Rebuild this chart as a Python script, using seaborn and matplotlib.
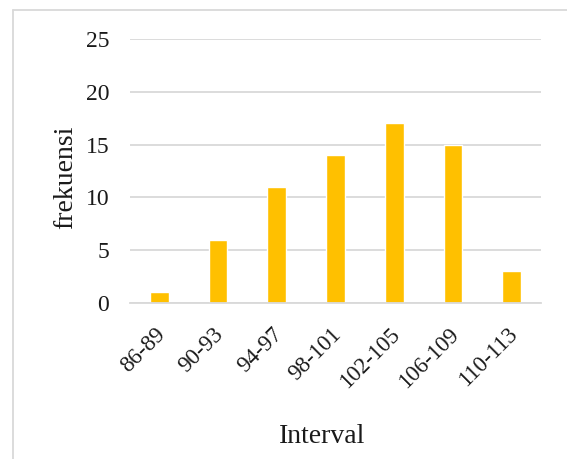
import matplotlib
matplotlib.use("Agg")
import matplotlib.pyplot as plt
import matplotlib.transforms as mtransforms
import seaborn as sns
import pandas as pd

intervals = ["86-89", "90-93", "94-97", "98-101", "102-105", "106-109", "110-113"]
frequencies = [1, 6, 11, 14, 17, 15, 3]
y_ticks = [0, 5, 10, 15, 20, 25]

df = pd.DataFrame({"Interval": intervals, "frekuensi": frequencies})

sns.set_theme(style="white")
plt.rcParams["font.family"] = ["Liberation Serif", "DejaVu Serif"]

fig = plt.figure(figsize=(5.67, 4.59), dpi=100)
ax = fig.add_axes([130 / 567, 1 - 303 / 459, 411 / 567, 264 / 459])

sns.barplot(data=df, x="Interval", y="frekuensi", color="#FFC000",
            saturation=1, width=0.32, ax=ax)

ax.set_ylim(0, 25)
ax.set_xlim(-0.5, len(intervals) - 0.5)
ax.set_yticks(y_ticks)
ax.set_yticklabels([str(t) for t in y_ticks], fontsize=17, color="#1a1a1a")
ax.tick_params(axis="y", length=0, pad=15)
ax.tick_params(axis="x", length=0, pad=15)
shift = mtransforms.ScaledTranslation(-5 / 100, 0, fig.dpi_scale_trans)
for lbl in ax.get_xticklabels():
    lbl.set_rotation(45)
    lbl.set_ha("right")
    lbl.set_rotation_mode("anchor")
    lbl.set_fontsize(16.5)
    lbl.set_color("#1a1a1a")
    lbl.set_transform(lbl.get_transform() + shift)
ax.grid(axis="y", color="#d9d9d9", linewidth=1.3)
ax.set_axisbelow(True)
for side in ["top", "right", "left"]:
    ax.spines[side].set_visible(False)
ax.spines["bottom"].set_color("#d9d9d9")
ax.spines["bottom"].set_linewidth(1.3)

ax.set_xlabel("Interval", fontsize=20, color="#1a1a1a")
ax.set_ylabel("frekuensi", fontsize=20, color="#1a1a1a")
ax.xaxis.set_label_coords(322 / 567, 1 - 424 / 459, transform=fig.transFigure)
ax.yaxis.set_label_coords(78 / 567, 1 - 177 / 459, transform=fig.transFigure)

# outer chart frame (left and top edges)
fig.add_artist(plt.Line2D([13 / 567, 13 / 567], [0, 1 - 10 / 459],
                          transform=fig.transFigure, color="#d9d9d9", linewidth=1.3))
fig.add_artist(plt.Line2D([13 / 567, 1], [1 - 10 / 459, 1 - 10 / 459],
                          transform=fig.transFigure, color="#d9d9d9", linewidth=1.3))

fig.savefig("out.png", dpi=100)
